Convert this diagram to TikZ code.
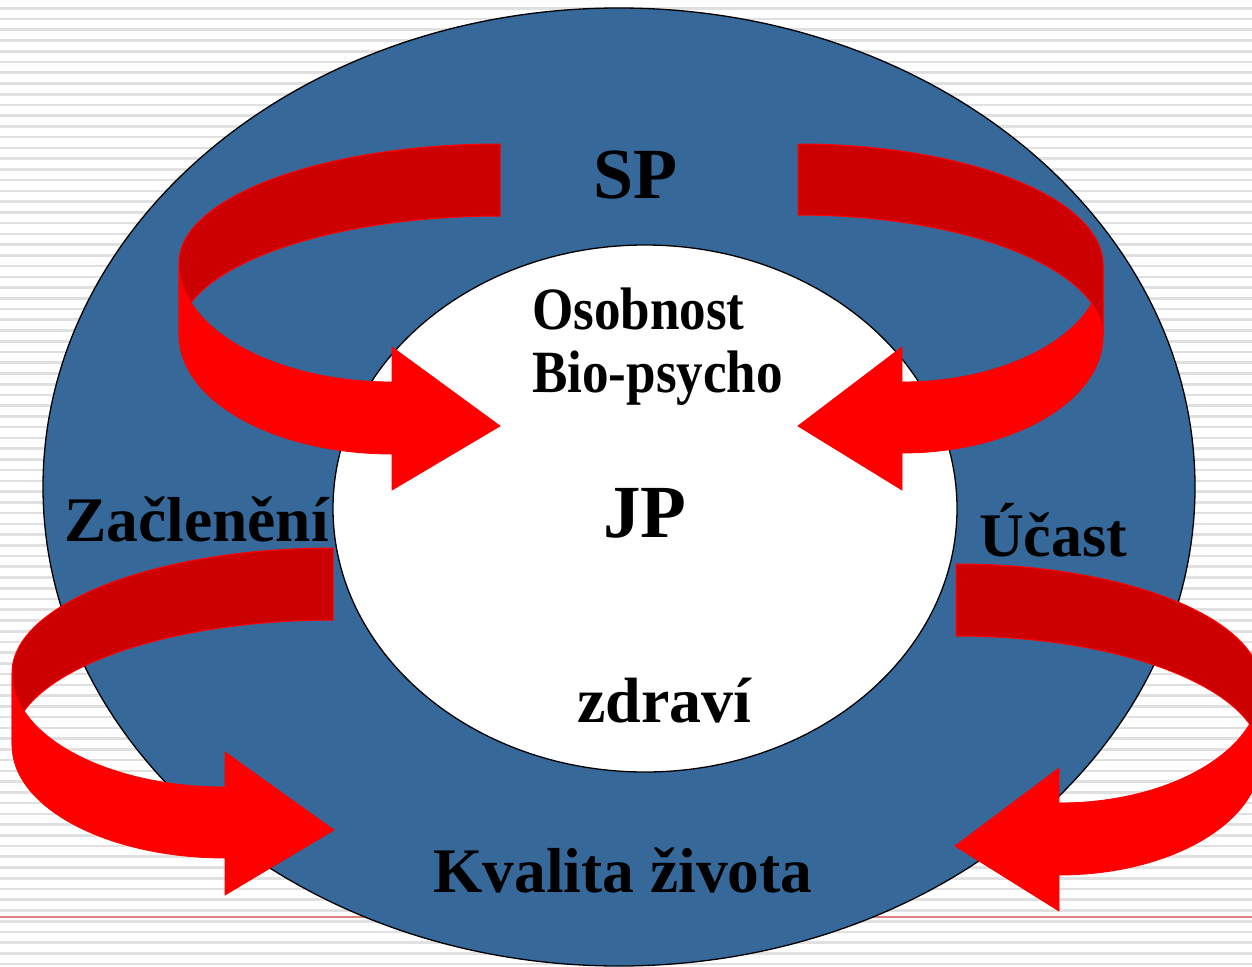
\documentclass[tikz,border=0pt]{standalone}
\usepackage{fontspec}
\setmainfont{Liberation Serif}
\definecolor{bluefill}{HTML}{36689A}
\definecolor{darkred}{HTML}{CC0000}
\definecolor{brightred}{HTML}{FF0000}
\definecolor{stripegray}{HTML}{E0E0E0}
\definecolor{rulered}{HTML}{E08080}
\begin{document}
\begin{tikzpicture}[x=1pt,y=-1pt,
  backband/.style={fill=darkred,draw=brightred,line width=1pt,line join=round},
  frontband/.style={fill=brightred,draw=brightred,line width=0.8pt,line join=miter},
  lbl/.style={anchor=base west,inner sep=0pt}]
\useasboundingbox (0,0) rectangle (1252,966);
\clip (0,0) rectangle (1252,966);
\fill[white] (0,0) rectangle (1252,966);
% striped background
\foreach \k in {0,...,89}{
  \draw[stripegray,line width=2.6pt] (0,{8.3+10.74*\k}) -- (1252,{8.3+10.74*\k});
}
\draw[rulered,line width=2pt] (0,917) -- (1252,917);
% ellipses
\draw[fill=bluefill,line width=1.3pt] (619,487) ellipse [x radius=576pt,y radius=479pt];
\draw[fill=white,line width=1.3pt] (645,508.5) ellipse [x radius=312pt,y radius=263.5pt];
% ---- top-left arrow (front on top)
\draw[backband] (500,144) arc[start angle=90,end angle=180,x radius=321pt,y radius=119pt]
  -- (179,335) arc[start angle=180,end angle=90,x radius=321pt,y radius=119pt] -- cycle;
\draw[frontband] (179,263) arc[start angle=180,end angle=270,x radius=213pt,y radius=119pt]
  -- (392,347) -- (500,426) -- (392,490) -- (392,454)
  arc[start angle=270,end angle=180,x radius=213pt,y radius=119pt] -- cycle;
% ---- top-right arrow (back on top)
\draw[frontband] (1103,265) arc[start angle=0,end angle=-90,x radius=201pt,y radius=117pt]
  -- (902,347) -- (798,426) -- (902,490) -- (902,453)
  arc[start angle=-90,end angle=0,x radius=201pt,y radius=117pt] -- cycle;
\draw[backband] (798,144) arc[start angle=90,end angle=0,x radius=305pt,y radius=121pt]
  -- (1103,336) arc[start angle=0,end angle=90,x radius=305pt,y radius=121pt] -- cycle;
% ---- bottom-left arrow (front on top)
\draw[backband] (333,548) arc[start angle=90,end angle=180,x radius=321pt,y radius=125pt]
  -- (12,745) arc[start angle=180,end angle=90,x radius=321pt,y radius=125pt] -- cycle;
\draw[frontband] (12,673) arc[start angle=180,end angle=270,x radius=213pt,y radius=114pt]
  -- (225,752) -- (334,830) -- (225,895) -- (225,858)
  arc[start angle=270,end angle=180,x radius=213pt,y radius=113pt] -- cycle;
% ---- bottom-right arrow (back on top)
\draw[frontband] (1261,685) arc[start angle=0,end angle=-90,x radius=202pt,y radius=118pt]
  -- (1059,768) -- (955,846) -- (1059,911) -- (1059,875)
  arc[start angle=-90,end angle=0,x radius=202pt,y radius=118pt] -- cycle;
\draw[backband] (956,564) arc[start angle=90,end angle=0,x radius=305pt,y radius=121pt]
  -- (1261,757) arc[start angle=0,end angle=90,x radius=305pt,y radius=121pt] -- cycle;
% ---- labels
\node[lbl,font=\fontsize{72}{80}\selectfont\bfseries] (sp) at (593,198) {SP};
\node[lbl,font=\fontsize{60}{66}\selectfont\bfseries] (osob) at (532,329) {\scalebox{0.885}[1]{Osobnost}};
\node[lbl,font=\fontsize{60}{66}\selectfont\bfseries] (bio) at (532,392) {\scalebox{0.885}[1]{Bio-psycho}};
\node[lbl,font=\fontsize{75}{82}\selectfont\bfseries] (jp) at (603,537) {JP};
\node[lbl,font=\fontsize{64}{70}\selectfont\bfseries] (zdr) at (577,722) {zdraví};
\node[lbl,font=\fontsize{63.5}{70}\selectfont\bfseries] (zac) at (64,541) {Začlenění};
\node[lbl,font=\fontsize{62}{68}\selectfont\bfseries] (uc) at (979,556) {Účast};
\node[lbl,font=\fontsize{63.5}{70}\selectfont\bfseries] (kz) at (433,892) {Kvalita života};
\end{tikzpicture}
\end{document}
